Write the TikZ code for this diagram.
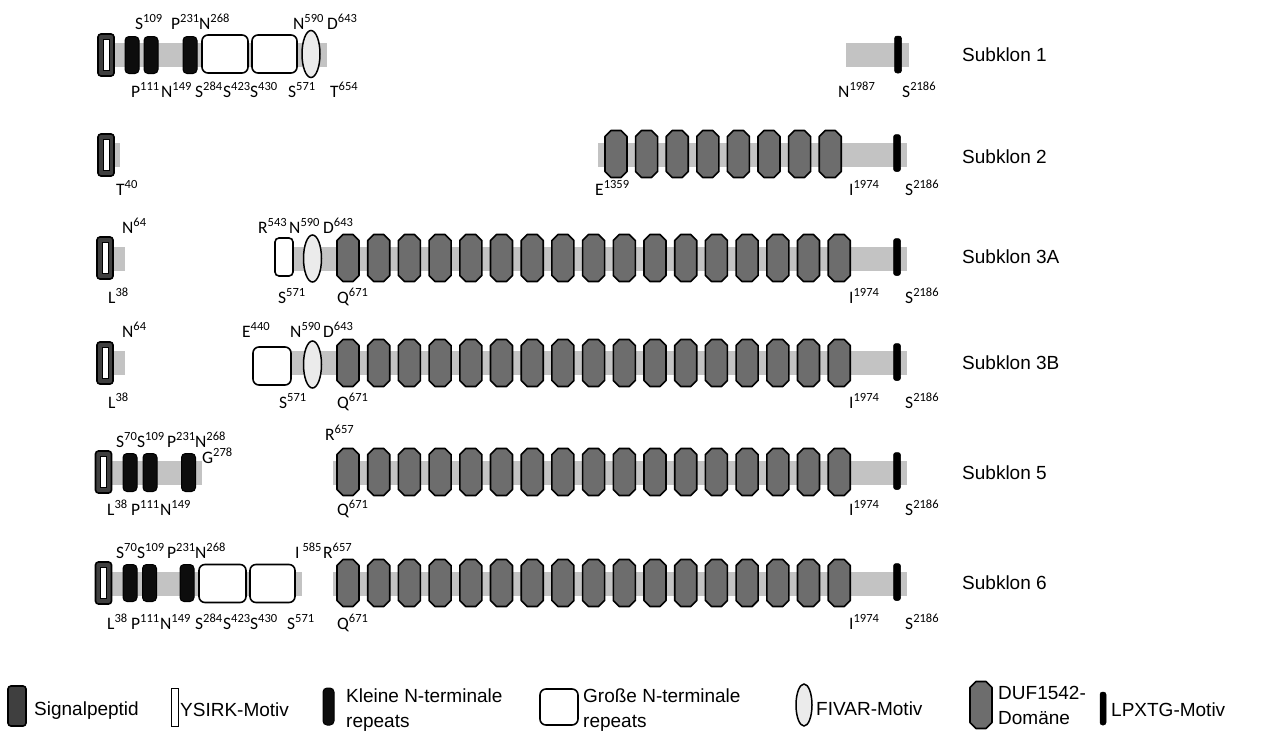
\documentclass[tikz,border=0pt]{standalone}
\usepackage{fontspec}
\setmainfont{Liberation Sans}
\newfontfamily\labfont{Carlito}
\usetikzlibrary{shapes.geometric}
\definecolor{barg}{HTML}{C3C3C3}
\definecolor{sigg}{HTML}{3F3F3F}
\definecolor{dufg}{HTML}{6D6D6D}
\definecolor{fivg}{HTML}{EBEBEB}
\definecolor{repg}{HTML}{0D0D0D}
\newcommand\su[1]{\raisebox{6.5pt}{\fontsize{12.5}{12.5}\selectfont #1}}
\newcounter{lc}
\newcommand\lbl[3]{\stepcounter{lc}\node[lab] (lab\number\value{lc}) at (#1,#2) {#3};}
\newcommand\sigp[3]{\node[sig] (sp#1) at (#2,#3) {};\node[ysirk] (ys#1) at (sp#1) {};}
\tikzset{
  lab/.style={anchor=base west, inner sep=0pt, font=\labfont\fontsize{17.5}{19}\selectfont},
  rowl/.style={anchor=west, inner sep=0pt, font=\fontsize{19}{22}\selectfont},
  legt/.style={anchor=base west, inner sep=0pt, font=\fontsize{19}{22}\selectfont},
  sig/.style={draw=black, line width=1.6pt, fill=sigg, rounded corners=3pt, minimum width=16pt, minimum height=42pt, inner sep=0pt},
  ysirk/.style={draw=black, line width=1pt, fill=white, minimum width=6pt, minimum height=31pt, inner sep=0pt},
  smallr/.style={draw=black, line width=1pt, fill=repg, rounded corners=4pt, minimum width=14pt, minimum height=37pt, inner sep=0pt},
  larger/.style={draw=black, line width=1.6pt, fill=white, rounded corners=6pt, minimum height=38pt, inner sep=0pt},
  fivar/.style={ellipse, draw=black, line width=1.5pt, fill=fivg, minimum width=18pt, minimum height=47pt, inner sep=0pt},
  lpx/.style={fill=black, draw=black, line width=0.5pt, rounded corners=2.5pt, minimum width=7pt, minimum height=37pt, inner sep=0pt},
  dufs/.style={draw=black, line width=1.6pt, fill=dufg, line join=round},
  duf/.pic={\draw[dufs] (-11,-17.5) -- (-5,-23.5) -- (5,-23.5) -- (11,-17.5) -- (11,17.5) -- (5,23.5) -- (-5,23.5) -- (-11,17.5) -- cycle;},
  bar/.style={fill=barg}
}
\begin{document}
\begin{tikzpicture}[x=1pt,y=-1pt]
\useasboundingbox[fill=white] (0,0) rectangle (1263,731);
% ---------- Row 1 ----------
\fill[bar] (104,43) rectangle (327,67);
\fill[bar] (846,43) rectangle (909,67);
\sigp{1}{106}{55}
\node[smallr] (k11) at (132,55) {};
\node[smallr] (k12) at (151,55) {};
\node[smallr] (k13) at (190,55) {};
\node[larger, minimum width=46pt] (g11) at (225,54) {};
\node[larger, minimum width=45pt] (g12) at (274.5,54) {};
\node[fivar] (f1) at (311,54) {};
\node[lpx] (lp1) at (898,54.5) {};
\lbl{135}{29}{S\su{109}}
\lbl{171}{29}{P\su{231}}
\lbl{199}{29}{N\su{268}}
\lbl{293}{29}{N\su{590}}
\lbl{327}{29}{D\su{643}}
\lbl{131}{97}{P\su{111}}
\lbl{161}{97}{N\su{149}}
\lbl{195}{97}{S\su{284}}
\lbl{223}{97}{S\su{423}}
\lbl{250}{97}{S\su{430}}
\lbl{288}{97}{S\su{571}}
\lbl{330}{97}{T\su{654}}
\lbl{838}{97}{N\su{1987}}
\lbl{902}{97}{S\su{2186}}
\node[rowl] (r1) at (962,55) {Subklon 1};
% ---------- Row 2 ----------
\fill[bar] (106,143) rectangle (120,167);
\fill[bar] (598,143) rectangle (907,167);
\sigp{2}{106}{155}
\foreach \k in {0,...,7} \pic at ({616+30.6*\k},154) {duf};
\node[lpx] (lp2) at (897,153) {};
\lbl{116}{195}{T\su{40}}
\lbl{595}{195}{E\su{1359}}
\lbl{849}{195}{I\su{1974}}
\lbl{905}{195}{S\su{2186}}
\node[rowl] (r2) at (962,157) {Subklon 2};
% ---------- Row 3A ----------
\fill[bar] (105,247) rectangle (125,271);
\fill[bar] (280,247) rectangle (907,271);
\sigp{3}{105}{258}
\node[larger, minimum width=18pt, rounded corners=4pt] (g31) at (284,257) {};
\node[fivar] (f3) at (312.5,258.5) {};
\foreach \k in {0,...,16} \pic at ({348+30.7*\k},258) {duf};
\node[lpx] (lp3) at (897,257) {};
\lbl{122}{233}{N\su{64}}
\lbl{258}{233}{R\su{543}}
\lbl{289}{233}{N\su{590}}
\lbl{323}{233}{D\su{643}}
\lbl{108}{303}{L\su{38}}
\lbl{278}{303}{S\su{571}}
\lbl{337}{303}{Q\su{671}}
\lbl{849}{303}{I\su{1974}}
\lbl{905}{303}{S\su{2186}}
\node[rowl] (r3) at (962,257) {Subklon 3A};
% ---------- Row 3B ----------
\fill[bar] (105,351) rectangle (125,375);
\fill[bar] (260,351) rectangle (907,375);
\sigp{4}{105}{363}
\node[larger, minimum width=38pt] (g41) at (272,366) {};
\node[fivar] (f4) at (312.5,364.5) {};
\foreach \k in {0,...,16} \pic at ({348+30.7*\k},363) {duf};
\node[lpx] (lp4) at (897,362) {};
\lbl{122}{337}{N\su{64}}
\lbl{242}{337}{E\su{440}}
\lbl{290}{337}{N\su{590}}
\lbl{323}{337}{D\su{643}}
\lbl{108}{408}{L\su{38}}
\lbl{279}{408}{S\su{571}}
\lbl{337}{408}{Q\su{671}}
\lbl{849}{408}{I\su{1974}}
\lbl{905}{408}{S\su{2186}}
\node[rowl] (r4) at (962,363) {Subklon 3B};
% ---------- Row 5 ----------
\fill[bar] (97,461) rectangle (202,485);
\fill[bar] (333,461) rectangle (907,485);
\sigp{5}{103.5}{472}
\node[smallr, minimum height=38pt] (k51) at (130,472.5) {};
\node[smallr, minimum height=38pt] (k52) at (150,472.5) {};
\node[smallr, minimum height=38pt] (k53) at (188.5,472.5) {};
\foreach \k in {0,...,16} \pic at ({348+30.7*\k},472) {duf};
\node[lpx] (lp5) at (897,471) {};
\lbl{116}{447}{S\su{70}}
\lbl{137}{447}{S\su{109}}
\lbl{167}{447}{P\su{231}}
\lbl{195}{447}{N\su{268}}
\lbl{202}{463}{G\su{278}}
\lbl{325}{440}{R\su{657}}
\lbl{107}{515}{L\su{38}}
\lbl{131}{515}{P\su{111}}
\lbl{160}{515}{N\su{149}}
\lbl{337}{515}{Q\su{671}}
\lbl{849}{515}{I\su{1974}}
\lbl{905}{515}{S\su{2186}}
\node[rowl] (r5) at (962,473) {Subklon 5};
% ---------- Row 6 ----------
\fill[bar] (97,572) rectangle (302,596);
\fill[bar] (333,572) rectangle (907,596);
\sigp{6}{103.5}{583}
\node[smallr] (k61) at (130,583) {};
\node[smallr] (k62) at (149.5,583) {};
\node[smallr] (k63) at (187,583) {};
\node[larger, minimum width=47pt] (g61) at (222.5,583.5) {};
\node[larger, minimum width=45pt] (g62) at (272.5,583.5) {};
\foreach \k in {0,...,16} \pic at ({348+30.7*\k},583) {duf};
\node[lpx] (lp6) at (897,582) {};
\lbl{116}{558}{S\su{70}}
\lbl{137}{558}{S\su{109}}
\lbl{167}{558}{P\su{231}}
\lbl{195}{558}{N\su{268}}
\lbl{295}{558}{I\,\su{585}}
\lbl{323}{558}{R\su{657}}
\lbl{107}{629}{L\su{38}}
\lbl{131}{629}{P\su{111}}
\lbl{160}{629}{N\su{149}}
\lbl{195}{629}{S\su{284}}
\lbl{223}{629}{S\su{423}}
\lbl{250}{629}{S\su{430}}
\lbl{287}{629}{S\su{571}}
\lbl{337}{629}{Q\su{671}}
\lbl{849}{629}{I\su{1974}}
\lbl{905}{629}{S\su{2186}}
\node[rowl] (r6) at (962,583) {Subklon 6};
% ---------- Legend ----------
\node[sig, minimum width=18pt, minimum height=40pt] (lg1) at (17,706) {};
\node[legt] (lt1) at (34,715) {Signalpeptid};
\node[ysirk, minimum width=7pt, minimum height=38pt] (lg2) at (174.5,707) {};
\node[legt] (lt2) at (180,716) {YSIRK-Motiv};
\node[smallr, minimum width=11pt, minimum height=37pt] (lg3) at (328.5,706.5) {};
\node[legt] (lt3a) at (346,702) {Kleine N-terminale};
\node[legt] (lt3b) at (346,727) {repeats};
\node[larger, minimum width=38pt, minimum height=36pt] (lg4) at (559,707) {};
\node[legt] (lt4a) at (583,702) {Große N-terminale};
\node[legt] (lt4b) at (583,727) {repeats};
\node[fivar, minimum width=16pt, minimum height=42pt] (lg5) at (804,705) {};
\node[legt] (lt5) at (816,715) {FIVAR-Motiv};
\pic at (981,705) {duf};
\node[legt] (lt6a) at (998,699) {DUF1542-};
\node[legt] (lt6b) at (998,724) {Domäne};
\node[lpx, minimum width=6pt, minimum height=33pt] (lg7) at (1103,708.5) {};
\node[legt] (lt7) at (1111,716) {LPXTG-Motiv};
\end{tikzpicture}
\end{document}
